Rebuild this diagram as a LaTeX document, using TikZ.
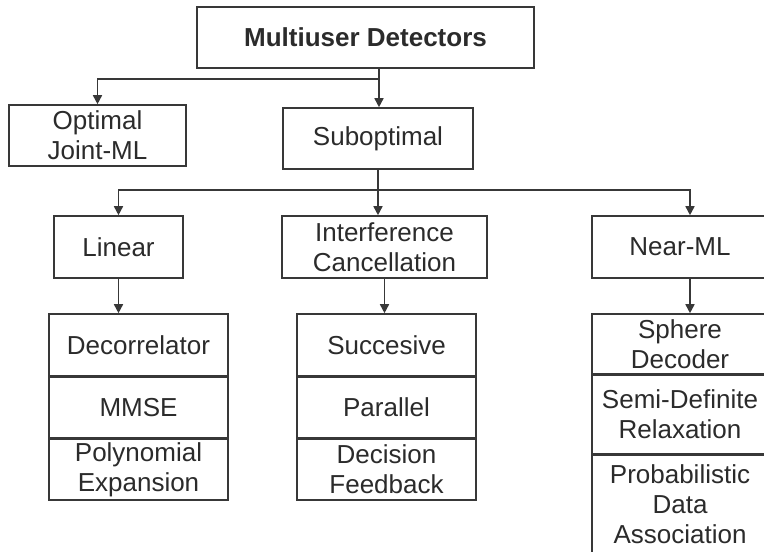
\documentclass[tikz,border=0pt]{standalone}
\usepackage{fontspec}
\setmainfont{Liberation Sans}
\usetikzlibrary{positioning,arrows.meta}

\definecolor{edge}{HTML}{383838}
\definecolor{ink}{HTML}{2B2B2B}

\tikzset{
  box/.style={draw=edge, line width=1.6pt, fill=white, inner sep=0pt,
    align=center, text=ink, font=\fontsize{26}{30}\selectfont, minimum height=61},
  wire/.style={draw=edge, line width=1.6pt},
  link/.style={wire, -{Triangle[length=9pt,width=9pt]}}
}

\begin{document}
\begin{tikzpicture}[x=1pt,y=-1pt]

% Frame (right column runs off the edge)
\clip (0,0) rectangle (764,552);
\fill[white] (0,0) rectangle (764,552);

% Root and first split
\node[box, minimum width=337] (mud) at (365.5,37.5) {\bfseries Multiuser Detectors};
\node[box, minimum width=177] (opt) at (97.5,135.5) {Optimal\\Joint-ML};
\node[box, minimum width=190] (sub) at (378,138.5) {Suboptimal};

% Suboptimal families
\node[box, minimum width=129, minimum height=62] (lin) at (118.5,247) {Linear};
\node[box, minimum width=205, minimum height=62] (ic)  at (384.5,247) {Interference\\Cancellation};
\node[box, minimum width=176, minimum height=62] (nml) at (680,247) {Near-ML};

% Linear detectors
\node[box, minimum width=179, minimum height=62] (dec) at (138.5,345) {Decorrelator};
\node[box, minimum width=179, minimum height=60, below=0pt of dec] (mmse) {MMSE};
\node[box, minimum width=179, minimum height=61, below=0pt of mmse] (poly) {Polynomial\\Expansion};

% Interference cancellation
\node[box, minimum width=179, minimum height=62] (sic) at (386.5,345) {Succesive};
\node[box, minimum width=179, minimum height=60, below=0pt of sic] (pic) {Parallel};
\node[box, minimum width=179, minimum height=61, below=0pt of pic] (dfb) {Decision\\Feedback};

% Near-ML detectors
\node[box, minimum width=176, minimum height=60] (sph) at (680,344) {Sphere\\Decoder};
\node[box, minimum width=176, minimum height=78, below=0pt of sph] (sdr) {Semi-Definite\\Relaxation};
\node[box, minimum width=176, minimum height=99, below=0pt of sdr] (pda) {Probabilistic\\Data\\Association};

% Branch points
\coordinate (tbar) at (379,79);
\coordinate (mbar) at (378,190);
\coordinate (nbar) at (690,190);

% Connectors, top level
\draw[wire] (mud.south -| tbar) -- (tbar);
\draw[link] (tbar) -| (opt.north);
\draw[link] (tbar) -- (tbar |- sub.north);

% Connectors, second level
\draw[wire] (sub.south -| mbar) -- (mbar);
\draw[link] (mbar) -| (lin.north);
\draw[link] (mbar) -- (mbar |- ic.north);
\draw[link] (mbar) -- (nbar) -- (nbar |- nml.north);

% Down into the method lists
\draw[link] (lin.south) -- (lin.south |- dec.north);
\draw[link] (ic.south) -- (ic.south |- sic.north);
\draw[link] (nbar |- nml.south) -- (nbar |- sph.north);

\end{tikzpicture}
\end{document}
